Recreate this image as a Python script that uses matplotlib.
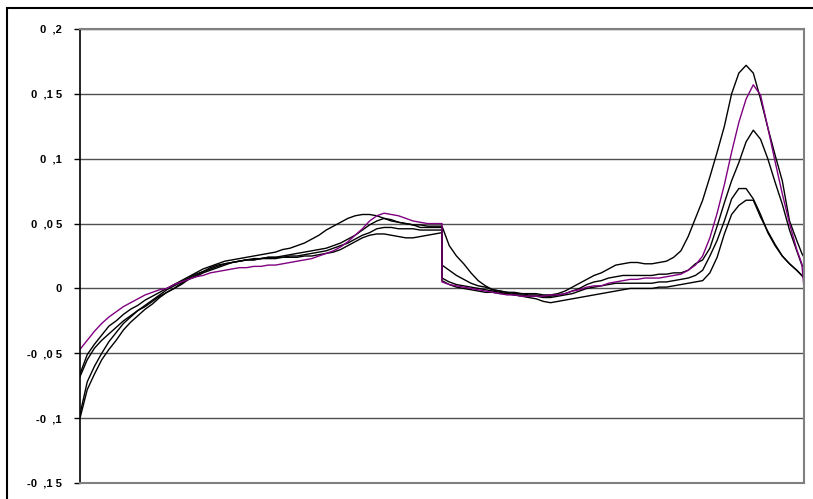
import matplotlib.pyplot as plt
from matplotlib.patches import Rectangle

# measurement points: first half, jump at 50, second half
x_pos = list(range(51)) + [50] + list(range(51, 100)) + [99.7, 100]

purple = [-0.047, -0.040, -0.033, -0.027, -0.022, -0.018, -0.014, -0.011, -0.008, -0.005,
          -0.003, -0.001, 0.000, 0.003, 0.005, 0.007, 0.009, 0.010, 0.012, 0.013,
          0.014, 0.015, 0.016, 0.016, 0.017, 0.017, 0.018, 0.018, 0.019, 0.020,
          0.021, 0.022, 0.023, 0.025, 0.027, 0.029, 0.032, 0.036, 0.041, 0.046,
          0.052, 0.056, 0.058, 0.057, 0.056, 0.054, 0.052, 0.051, 0.050, 0.050, 0.050,
          0.005,
          0.003, 0.002, 0.001, 0.000, -0.001, -0.002, -0.003, -0.004, -0.005,
          -0.005, -0.006, -0.006, -0.006, -0.006, -0.005, -0.005, -0.004, -0.002, -0.001,
          0.001, 0.002, 0.002, 0.004, 0.005, 0.006, 0.007, 0.007, 0.008, 0.008,
          0.008, 0.009, 0.010, 0.011, 0.014, 0.018, 0.025, 0.039, 0.058, 0.080,
          0.105, 0.128, 0.146, 0.157, 0.149, 0.124, 0.098, 0.073, 0.050, 0.030,
          0.019, 0.000]

s1 = [-0.066, -0.051, -0.043, -0.036, -0.029, -0.025, -0.020, -0.016, -0.013, -0.009,
      -0.006, -0.003, 0.000, 0.003, 0.006, 0.009, 0.012, 0.015, 0.017, 0.019,
      0.021, 0.022, 0.023, 0.024, 0.025, 0.026, 0.027, 0.028, 0.030, 0.031,
      0.033, 0.035, 0.038, 0.041, 0.045, 0.048, 0.051, 0.054, 0.056, 0.057,
      0.057, 0.056, 0.054, 0.052, 0.051, 0.050, 0.049, 0.049, 0.048, 0.048, 0.048,
      0.048,
      0.033, 0.025, 0.019, 0.012, 0.006, 0.002, -0.001, -0.002, -0.003,
      -0.003, -0.004, -0.004, -0.004, -0.005, -0.005, -0.004, -0.002, 0.001, 0.004,
      0.007, 0.010, 0.012, 0.015, 0.018, 0.019, 0.020, 0.020, 0.019, 0.019,
      0.020, 0.021, 0.024, 0.029, 0.040, 0.054, 0.068, 0.086, 0.105, 0.125,
      0.150, 0.166, 0.172, 0.166, 0.146, 0.124, 0.103, 0.083, 0.052, 0.037,
      0.027, 0.024]

s2 = [-0.100, -0.078, -0.066, -0.055, -0.047, -0.040, -0.032, -0.026, -0.021, -0.016,
      -0.012, -0.007, -0.003, 0.000, 0.003, 0.007, 0.010, 0.013, 0.016, 0.018,
      0.019, 0.020, 0.021, 0.022, 0.022, 0.023, 0.024, 0.024, 0.025, 0.026,
      0.027, 0.028, 0.029, 0.030, 0.031, 0.033, 0.035, 0.038, 0.041, 0.045,
      0.049, 0.052, 0.054, 0.053, 0.051, 0.050, 0.049, 0.047, 0.047, 0.047, 0.047,
      0.018,
      0.014, 0.010, 0.007, 0.004, 0.002, 0.001, -0.001, -0.002, -0.003,
      -0.004, -0.004, -0.005, -0.005, -0.006, -0.006, -0.005, -0.004, -0.002, 0.000,
      0.003, 0.005, 0.006, 0.008, 0.009, 0.010, 0.010, 0.010, 0.010, 0.010,
      0.011, 0.011, 0.012, 0.012, 0.014, 0.019, 0.022, 0.031, 0.048, 0.066,
      0.083, 0.097, 0.113, 0.122, 0.115, 0.100, 0.082, 0.065, 0.045, 0.029,
      0.018, 0.016]

s3 = [-0.068, -0.055, -0.046, -0.040, -0.035, -0.030, -0.025, -0.021, -0.017, -0.014,
      -0.010, -0.006, -0.003, 0.000, 0.004, 0.007, 0.009, 0.012, 0.014, 0.016,
      0.018, 0.020, 0.021, 0.022, 0.023, 0.023, 0.024, 0.024, 0.024, 0.025,
      0.025, 0.026, 0.027, 0.028, 0.029, 0.031, 0.033, 0.035, 0.038, 0.041,
      0.043, 0.046, 0.047, 0.047, 0.046, 0.046, 0.046, 0.045, 0.045, 0.045, 0.045,
      0.006,
      0.003, 0.001, 0.000, -0.001, -0.002, -0.003, -0.003, -0.004, -0.004,
      -0.005, -0.005, -0.006, -0.006, -0.007, -0.007, -0.006, -0.005, -0.004, -0.002,
      0.000, 0.001, 0.002, 0.003, 0.004, 0.004, 0.004, 0.004, 0.004, 0.004,
      0.005, 0.005, 0.006, 0.007, 0.008, 0.010, 0.014, 0.025, 0.037, 0.052,
      0.069, 0.077, 0.077, 0.069, 0.057, 0.043, 0.033, 0.025, 0.019, 0.014,
      0.010, 0.008]

s4 = [-0.097, -0.072, -0.060, -0.050, -0.041, -0.034, -0.027, -0.022, -0.017, -0.013,
      -0.009, -0.005, -0.001, 0.002, 0.005, 0.008, 0.011, 0.013, 0.015, 0.017,
      0.019, 0.020, 0.021, 0.022, 0.022, 0.023, 0.023, 0.023, 0.024, 0.024,
      0.024, 0.025, 0.025, 0.026, 0.027, 0.028, 0.030, 0.033, 0.036, 0.039,
      0.041, 0.042, 0.042, 0.041, 0.040, 0.039, 0.039, 0.040, 0.041, 0.042, 0.043,
      0.008,
      0.005, 0.003, 0.002, 0.001, 0.000, -0.001, -0.002, -0.003, -0.004,
      -0.005, -0.006, -0.007, -0.008, -0.010, -0.011, -0.010, -0.009, -0.008, -0.007,
      -0.006, -0.005, -0.004, -0.003, -0.002, -0.001, 0.000, 0.000, 0.000, 0.000,
      0.001, 0.001, 0.002, 0.003, 0.004, 0.005, 0.006, 0.012, 0.024, 0.042,
      0.057, 0.064, 0.068, 0.068, 0.055, 0.044, 0.034, 0.025, 0.019, 0.014,
      0.010, 0.008]

y_ticks = [-0.15, -0.1, -0.05, 0, 0.05, 0.1, 0.15, 0.2]
y_labels = ['-0  ,1 5', '-0  ,1', '-0  ,0 5', '0', '0  ,0 5', '0  ,1', '0  ,1 5', '0  ,2']

fig = plt.figure(figsize=(8.13, 4.99), dpi=100)
ax = fig.add_axes([80 / 813, 1 - 483 / 499, 724 / 813, 454 / 499])

for s in [s1, s2, s3, s4]:
    ax.plot(x_pos, s, color='black', linewidth=1.0)
ax.plot(x_pos, purple, color='#800080', linewidth=1.0)

ax.set_xlim(0, 100)
ax.set_ylim(-0.15, 0.2)
ax.set_xticks([])
ax.set_yticks(y_ticks)
ax.set_yticklabels(y_labels, fontfamily='Liberation Sans', fontweight='bold', fontsize=8)
ax.tick_params(axis='y', direction='out', length=4, width=1, color='black', pad=9)
ax.grid(True, axis='y', color='#505050', linewidth=1)
ax.set_axisbelow(True)

ax.spines['left'].set_color('black')
ax.spines['left'].set_linewidth(1.2)
for side in ['top', 'right', 'bottom']:
    ax.spines[side].set_color('#808080')
    ax.spines[side].set_linewidth(1.5)

# outer chart frame
fig.patches.append(Rectangle((7 / 813, -0.1), 1.5, 1.1 - 8 / 499, transform=fig.transFigure,
                             fill=False, edgecolor='black', linewidth=1.5))

plt.savefig('out.png')
plt.close()
